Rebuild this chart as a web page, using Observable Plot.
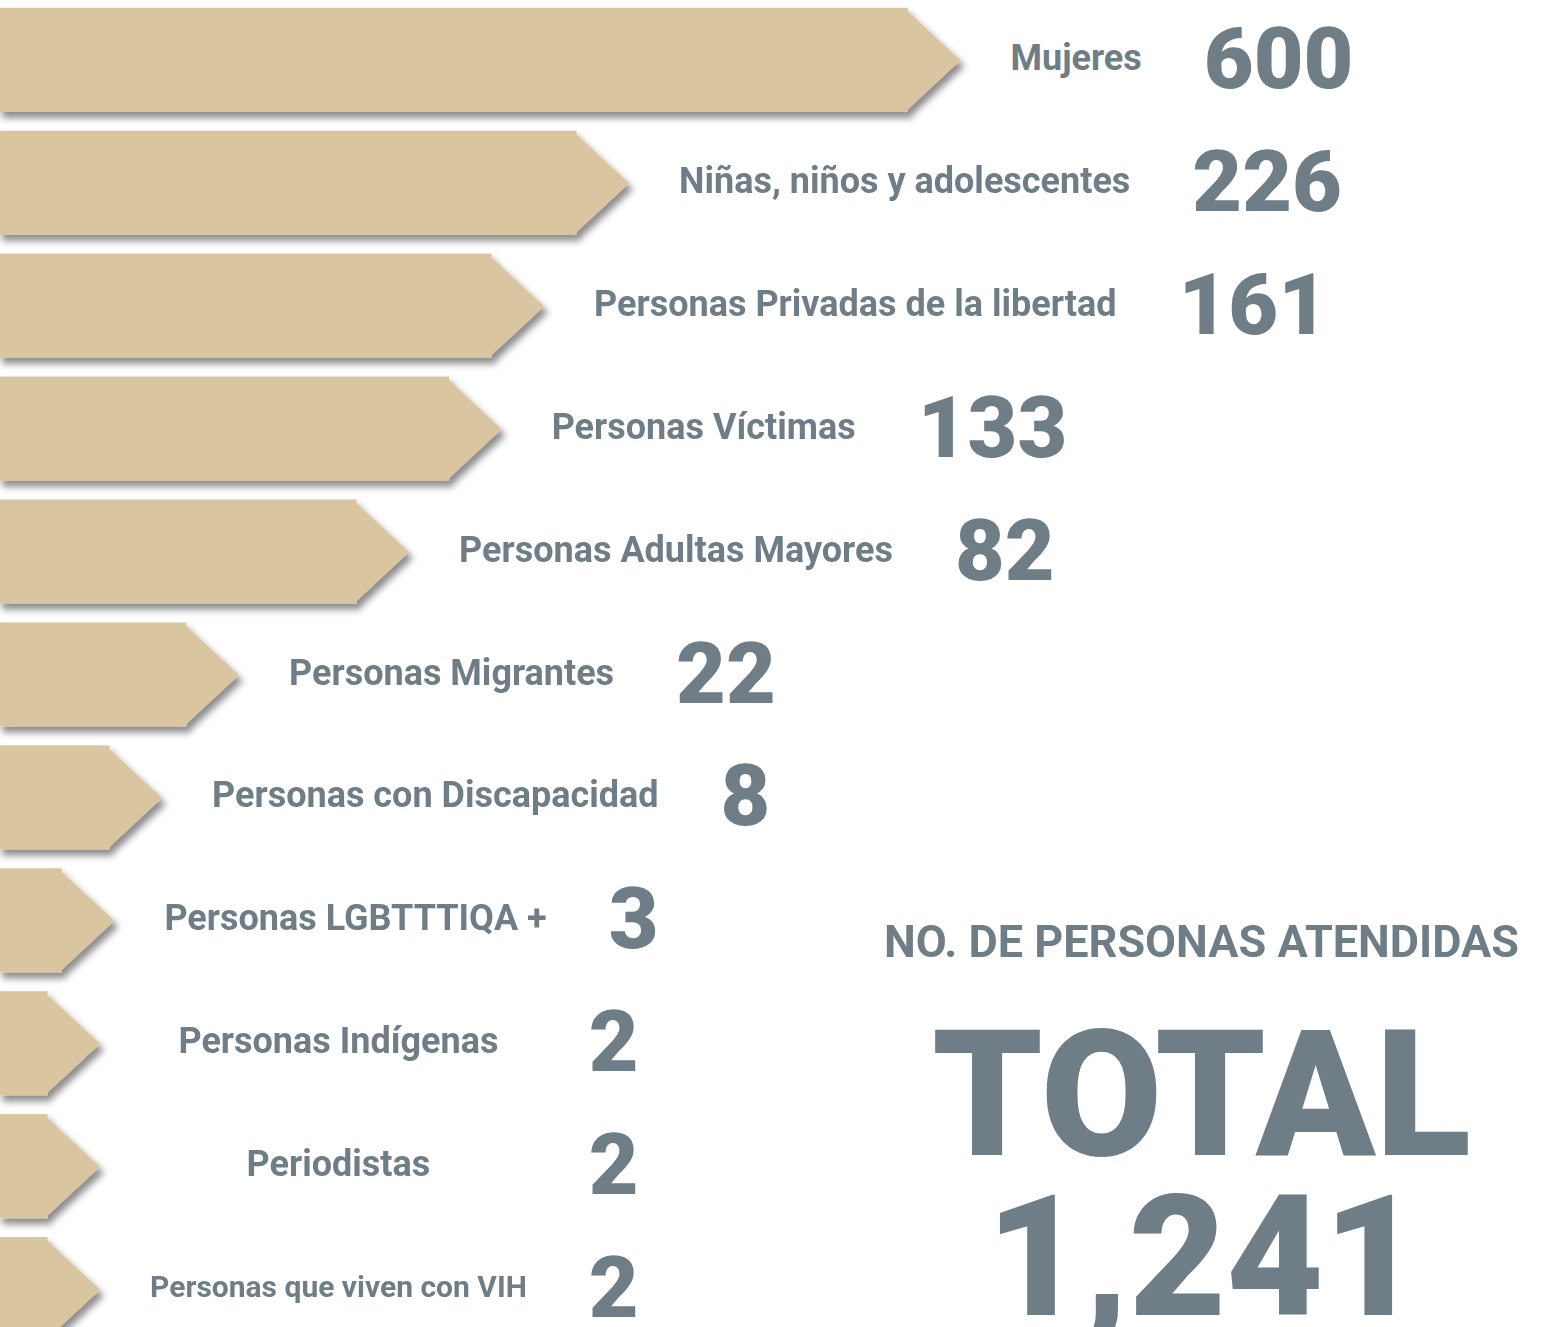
<!DOCTYPE html>
<html><head><meta charset="utf-8">
<script src="https://cdn.jsdelivr.net/npm/d3@7"></script>
<script src="https://cdn.jsdelivr.net/npm/@observablehq/plot@0.6"></script>
<style>
html,body{margin:0;padding:0;background:#fff;}
#chart{position:relative;width:1544px;height:1327px;overflow:hidden;}
</style></head><body><div id="chart"></div>
<script>
const categories = ["Mujeres","Niñas, niños y adolescentes","Personas Privadas de la libertad","Personas Víctimas","Personas Adultas Mayores","Personas Migrantes","Personas con Discapacidad","Personas LGBTTTIQA +","Personas Indígenas","Periodistas","Personas que viven con VIH"];
const values = [600,226,161,133,82,22,8,3,2,2,2];
const totalTitle = "NO. DE PERSONAS ATENDIDAS";
const totalLabel = "TOTAL";
const totalValue = 1241;

const data = categories.map((label, i) => ({label, value: values[i]}));
const W = 1544, H = 1327;
const BAR = "#d9c6a1", INK = "#6f7e86", FONT = "Roboto, 'Noto Sans', sans-serif";
const yOpts = {type: "band", domain: categories, range: [-11, 1360], padding: 0.153, round: false};
const bw = Plot.scale({y: yOpts}).bandwidth;
const TIP = 55;
const tipSymbol = {draw(ctx) { ctx.moveTo(-TIP - 1, -bw / 2); ctx.lineTo(0, 0); ctx.lineTo(-TIP - 1, bw / 2); ctx.closePath(); }};

const plot = Plot.plot({
  width: W, height: H, margin: 0,
  style: {fontFamily: FONT, background: "transparent"},
  x: {type: "pow", exponent: 0.45, domain: [0, 600], range: [28, 960], axis: null},
  y: {...yOpts, axis: null},
  marks: [
    Plot.barX(data, {x1: 0, x2: "value", y: "label", fill: BAR, insetLeft: -30, insetRight: TIP - 3}),
    Plot.dot(data, {x: "value", y: "label", symbol: tipSymbol, r: 10, fill: BAR, stroke: null}),
    Plot.text(data, {x: "value", y: "label", text: "label", textAnchor: "start", lineAnchor: "middle", dx: 50, dy: -2,
      fontSize: d => d.label === "Personas que viven con VIH" ? 30 : 36, fontWeight: 700, fill: INK}),
    Plot.text(data, {x: "value", y: "label", text: d => String(d.value), textAnchor: "start", lineAnchor: "middle", dx: 50,
      fontSize: 86, fontWeight: 900, fill: INK}),
    Plot.text([totalTitle], {frameAnchor: "top-left", dx: 1201, dy: 925, text: d => d, textAnchor: "middle", lineAnchor: "top",
      fontSize: 45, fontWeight: 700, fill: INK}),
    Plot.text([totalLabel], {frameAnchor: "top-left", dx: 1201, dy: 1030, text: d => d, textAnchor: "middle", lineAnchor: "top",
      fontSize: 176, fontWeight: 900, fill: INK}),
    Plot.text([totalValue], {frameAnchor: "top-left", dx: 1203, dy: 1195, text: d => d3.format(",")(d), textAnchor: "middle", lineAnchor: "top",
      fontSize: 168, fontWeight: 900, fill: INK})
  ]
});
const chart = document.getElementById("chart");
chart.appendChild(plot);

const ns = "http://www.w3.org/2000/svg";
const svg = plot.tagName.toLowerCase() === "svg" ? plot : plot.querySelector("svg");
// drop shadow on arrows
const defs = document.createElementNS(ns, "defs");
defs.innerHTML = '<filter id="arrowShadow" x="-5%" y="-5%" width="115%" height="115%"><feDropShadow dx="4" dy="6" stdDeviation="3.5" flood-color="#000" flood-opacity="0.45"/></filter>';
svg.insertBefore(defs, svg.firstChild);
const barsG = svg.querySelector('g[aria-label="bar"]');
const tipsG = svg.querySelector('g[aria-label="dot"]');
if (barsG && tipsG) {
  const wrap = document.createElementNS(ns, "g");
  wrap.setAttribute("filter", "url(#arrowShadow)");
  barsG.parentNode.insertBefore(wrap, barsG);
  wrap.appendChild(barsG);
  wrap.appendChild(tipsG);
}
// place numbers after their labels; rows sharing a value share a column
const textGroups = svg.querySelectorAll('g[aria-label="text"]');
const labelTexts = Array.from(textGroups[0].querySelectorAll("text"));
const numberTexts = Array.from(textGroups[1].querySelectorAll("text"));
const widths = labelTexts.map(t => t.getComputedTextLength());
const maxByValue = d3.rollup(data.map((d, i) => ({v: d.value, w: widths[i]})), g => d3.max(g, e => e.w), e => e.v);
labelTexts.forEach((t, i) => {
  const mw = maxByValue.get(data[i].value);
  t.setAttribute("x", (mw - widths[i]) / 2);
  numberTexts[i].setAttribute("x", mw + 62);
});
</script></body></html>
